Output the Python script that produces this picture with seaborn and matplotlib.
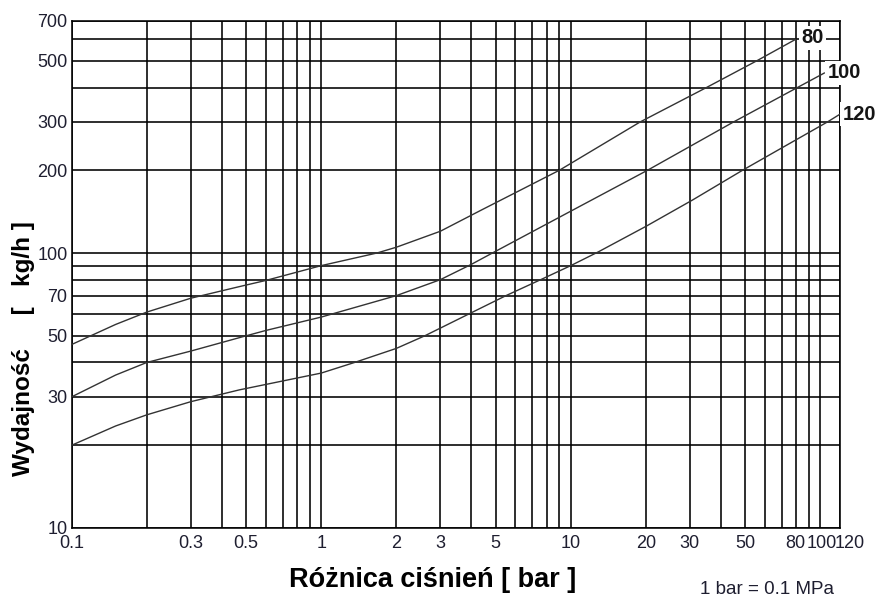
import matplotlib
matplotlib.use("Agg")
import matplotlib.pyplot as plt
import matplotlib.ticker as mticker
import matplotlib.transforms as mtransforms
import pandas as pd
import seaborn as sns

# ---- data (x: pressure difference [bar], y: capacity [kg/h])
dp80 = [0.1, 0.15, 0.2, 0.3, 0.47, 0.6, 1.0, 1.67, 2.0, 3.0, 4.36, 9.0, 19.0, 35.0, 55.6, 80.0]
q80 = [46.5, 55, 61, 68.5, 75.5, 79.5, 90, 100, 105, 120, 143, 200, 300, 400, 500, 600]

dp100 = [0.1, 0.15, 0.2, 0.3, 0.48, 0.6, 1.0, 2.0, 3.0, 4.0, 4.85, 10.0, 20.3, 45.0, 81.0, 104.0]
q100 = [30, 36, 40, 44, 49.5, 52.3, 58.5, 70, 80, 91, 100, 142, 200, 300, 400, 452]

dp120 = [0.1, 0.15, 0.2, 0.3, 0.47, 1.0, 1.36, 2.0, 2.6, 3.9, 5.5, 7.8, 10.0, 12.9, 20.0, 30.8, 48.8, 107.0, 120.0]
q120 = [20, 23.5, 25.8, 28.8, 31.8, 36.6, 40, 45, 50, 60, 70, 81, 90, 101, 125, 156, 200, 300, 320]

curve_names = ["80", "100", "120"]

x_grid = [0.1, 0.2, 0.3, 0.4, 0.5, 0.6, 0.7, 0.8, 0.9,
          1, 2, 3, 4, 5, 6, 7, 8, 9,
          10, 20, 30, 40, 50, 60, 70, 80, 90, 100, 120]
x_labels = {0.1: "0.1", 0.3: "0.3", 0.5: "0.5", 1: "1", 2: "2", 3: "3", 5: "5",
            10: "10", 20: "20", 30: "30", 50: "50", 80: "80", 100: "100", 120: "120"}

y_grid = [10, 20, 30, 40, 50, 60, 70, 80, 90, 100, 200, 300, 400, 500, 600, 700]
y_labels = {10: "10", 30: "30", 50: "50", 70: "70", 100: "100", 200: "200",
            300: "300", 500: "500", 700: "700"}

x_title = "Różnica ciśnień [ bar ]"
y_title = "Wydajność     [   kg/h ]"
note = "1 bar = 0.1 MPa"

# ---- build table
df = pd.concat([
    pd.DataFrame({"dp": dp80, "q": q80, "curve": "80"}),
    pd.DataFrame({"dp": dp100, "q": q100, "curve": "100"}),
    pd.DataFrame({"dp": dp120, "q": q120, "curve": "120"}),
], ignore_index=True)

sns.set_style("white")
plt.rcParams['font.family'] = ['Liberation Sans', 'DejaVu Sans']

W, H = 882, 599
fig = plt.figure(figsize=(W / 100, H / 100), dpi=100)
L, R, T, B = 71.7, 840, 20.7, 528
ax = fig.add_axes([L / W, 1 - B / H, (R - L) / W, (B - T) / H])

sns.lineplot(data=df, x="dp", y="q", hue="curve", hue_order=curve_names,
             palette=["#333333"] * 3, legend=False, ax=ax, linewidth=1.0,
             estimator=None, zorder=3)

ax.set_xscale("log")
ax.set_yscale("log")
ax.set_xlim(0.1, 120)
ax.set_ylim(10, 700)

tick_color = "#1e1e30"
ax.set_xticks(x_grid, labels=[x_labels.get(v, "") for v in x_grid])
ax.set_yticks(y_grid, labels=[y_labels.get(v, "") for v in y_grid])
ax.xaxis.set_minor_locator(mticker.NullLocator())
ax.yaxis.set_minor_locator(mticker.NullLocator())
ax.tick_params(axis="both", length=0, labelsize=13, labelcolor=tick_color)
ax.tick_params(axis="x", pad=5)
ax.tick_params(axis="y", pad=3)

# the crowded labels at the right end sit packed side by side, as in the reference
shift_px = {80: -1, 100: 2, 120: 10}
for v, lab in zip(x_grid, ax.get_xticklabels()):
    if v in shift_px:
        lab.set_transform(lab.get_transform() +
                          mtransforms.ScaledTranslation(shift_px[v] / 100, 0, fig.dpi_scale_trans))

ax.grid(True, which="major", color="black", linewidth=1.15)
ax.set_axisbelow(True)
for s in ax.spines.values():
    s.set_color("black")
    s.set_linewidth(1.15)

ax.set_xlabel("")
ax.set_ylabel("")

# curve labels at the end of each curve
ends = {"80": (dp80[-1], q80[-1], (4, 1)),
        "100": (dp100[-1], q100[-1], (2, 0)),
        "120": (dp120[-1], q120[-1], (2, 0))}
for name in curve_names:
    xe, ye, off = ends[name]
    ax.annotate(name, xy=(xe, ye), xytext=off, textcoords="offset points",
                ha="left", va="center", fontsize=14.5, fontweight="bold",
                color="#151515", annotation_clip=False, zorder=6,
                bbox=dict(boxstyle="square,pad=0.12", fc="white", ec="none"))

fig.text(433 / W, 1 - 580 / H, x_title, ha="center", va="center",
         fontsize=19.5, fontweight="bold", color="black")
fig.text(24 / W, 1 - 349 / H, y_title, ha="center", va="center",
         rotation=90, fontsize=17.5, fontweight="bold", color="black")
fig.text(767 / W, 1 - 590 / H, note, ha="center", va="center",
         fontsize=13.5, color=tick_color)

fig.savefig("out.png", dpi=100, facecolor="white")
